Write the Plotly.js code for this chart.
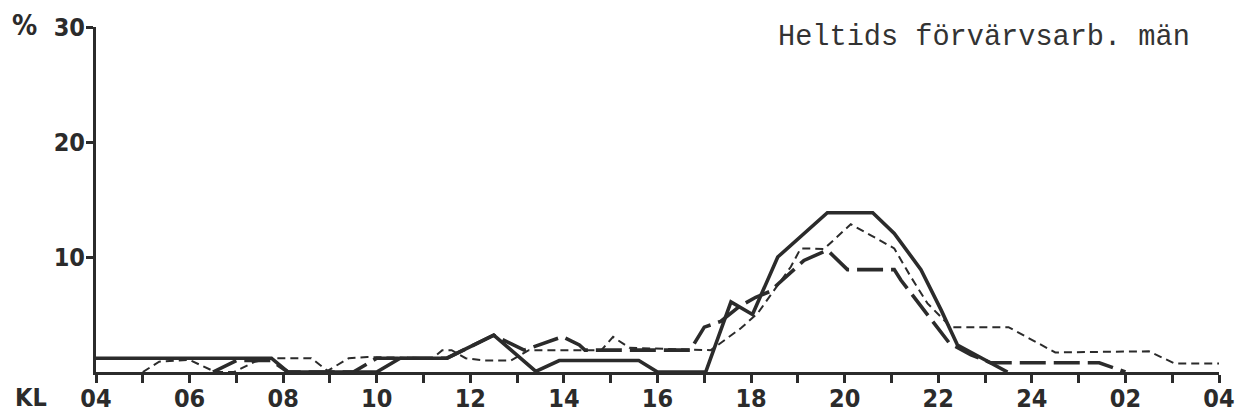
<!DOCTYPE html>
<html>
<head>
<meta charset="utf-8">
<script src="https://cdn.plot.ly/plotly-3.0.1.min.js"></script>
<style>html,body{margin:0;padding:0;background:#fff;} #chart{width:1251px;height:419px;}</style>
</head>
<body>
<div id="chart"></div>
<script>
// Hours on a continuous clock scale: 4 = 04, 24 = 24, 26 = 02, 28 = 04 (next day)
const solidHours = [4, 7.75, 8.1, 10.0, 10.5, 11.5, 12.5, 13.4, 13.9, 15.6, 16.0, 17.03, 17.57, 18.03, 18.57, 19.63, 20.6, 21.06, 21.63, 22.06, 22.41, 23.12, 23.48];
const solidValues = [1.2, 1.2, 0, 0, 1.2, 1.2, 3.2, 0.05, 1.0, 1.0, 0, 0, 6.1, 5.0, 10.0, 13.85, 13.85, 12.05, 8.9, 5.4, 2.35, 0.75, 0];

const longDashHours = [6.5, 7.0, 7.75, 8.1, 9.5, 10.0, 11.5, 12.5, 13.15, 13.97, 14.33, 14.45, 16.7, 17.0, 17.35, 17.75, 18.1, 18.4, 19.13, 19.63, 20.06, 21.06, 21.2, 22.24, 22.7, 23.12, 25.44, 26.0];
const longDashValues = [0, 1.0, 1.0, 0, 0, 1.2, 1.2, 3.2, 1.9, 3.07, 2.35, 1.9, 1.9, 3.9, 4.4, 5.7, 6.5, 7.0, 9.7, 10.6, 8.9, 8.9, 8.0, 2.5, 1.5, 0.8, 0.8, 0];

const shortDashHours = [5.0, 5.35, 6.0, 6.55, 6.95, 7.4, 7.8, 8.6, 8.95, 9.4, 9.8, 11.2, 11.4, 11.6, 11.9, 12.3, 12.87, 13.25, 14.8, 15.05, 15.4, 17.14, 17.78, 18.14, 18.49, 18.85, 19.06, 19.56, 20.13, 20.35, 21.06, 21.41, 21.77, 22.27, 23.5, 24.5, 26.5, 27.05, 28];
const shortDashValues = [0, 0.9, 1.05, 0, 0, 0.9, 1.2, 1.2, 0.1, 1.2, 1.3, 1.2, 1.9, 1.9, 1.2, 1.0, 1.0, 1.9, 1.9, 3.05, 2.1, 1.9, 3.8, 5.1, 7.1, 9.15, 10.75, 10.7, 12.85, 12.35, 10.75, 8.3, 5.97, 3.9, 3.9, 1.7, 1.8, 0.75, 0.75];

const xTickVals = [4,5,6,7,8,9,10,11,12,13,14,15,16,17,18,19,20,21,22,23,24,25,26,27,28];
const xTickText = ['04','','06','','08','','10','','12','','14','','16','','18','','20','','22','','24','','02','','04'];
const yTickVals = [10, 20, 30];
const yTickText = ['10', '20', '30'];
const titleText = 'Heltids förvärvsarb. män';

const ink = '#2b2b2b';
const labelFont = 'Liberation Sans Narrow, DejaVu Sans Condensed, Liberation Sans, sans-serif';

const traces = [
  {x: solidHours, y: solidValues, mode: 'lines', line: {color: ink, width: 3.6}, hoverinfo: 'skip'},
  {x: longDashHours, y: longDashValues, mode: 'lines', line: {color: ink, width: 3.6, dash: '26px,8px'}, hoverinfo: 'skip'},
  {x: shortDashHours, y: shortDashValues, mode: 'lines', line: {color: ink, width: 2, dash: '8px,5px'}, hoverinfo: 'skip'}
];

const layout = {
  width: 1251, height: 419,
  margin: {l: 96, r: 32, t: 27, b: 47, pad: 0},
  paper_bgcolor: '#fff', plot_bgcolor: '#fff',
  showlegend: false,
  title: {text: titleText, x: 778/1251, xanchor: 'left', xref: 'container', y: 1 - 35/419, yanchor: 'middle', yref: 'container',
          font: {family: 'Liberation Mono, DejaVu Sans Mono, monospace', size: 28.6, color: '#333'}},
  xaxis: {range: [4, 28], tickmode: 'array', tickvals: xTickVals, ticktext: xTickText,
          showgrid: false, zeroline: false, showline: true, linecolor: ink, linewidth: 3,
          ticks: 'outside', ticklen: 8, tickwidth: 3, tickcolor: ink, ticklabelstandoff: -6,
          tickfont: {family: labelFont, size: 25, color: ink, weight: 'bold'}},
  yaxis: {range: [0, 30], tickmode: 'array', tickvals: yTickVals, ticktext: yTickText,
          showgrid: false, zeroline: false, showline: true, linecolor: ink, linewidth: 3,
          ticks: 'outside', ticklen: 7, tickwidth: 3, tickcolor: ink, ticklabelstandoff: -4,
          tickfont: {family: labelFont, size: 25, color: ink, weight: 'bold'}},
  annotations: [
    {text: '%', xref: 'paper', yref: 'paper', x: (24 - 96) / 1123, y: (372 - 26) / 345, xanchor: 'center', yanchor: 'middle', showarrow: false,
     font: {family: labelFont, size: 28, color: ink, weight: 'bold'}},
    {text: 'KL', xref: 'paper', yref: 'paper', x: (31 - 96) / 1123, y: (372 - 397) / 345, xanchor: 'center', yanchor: 'middle', showarrow: false,
     font: {family: labelFont, size: 25, color: ink, weight: 'bold'}}
  ]
};

Plotly.newPlot('chart', traces, layout, {staticPlot: true, displayModeBar: false});
</script>
</body>
</html>
